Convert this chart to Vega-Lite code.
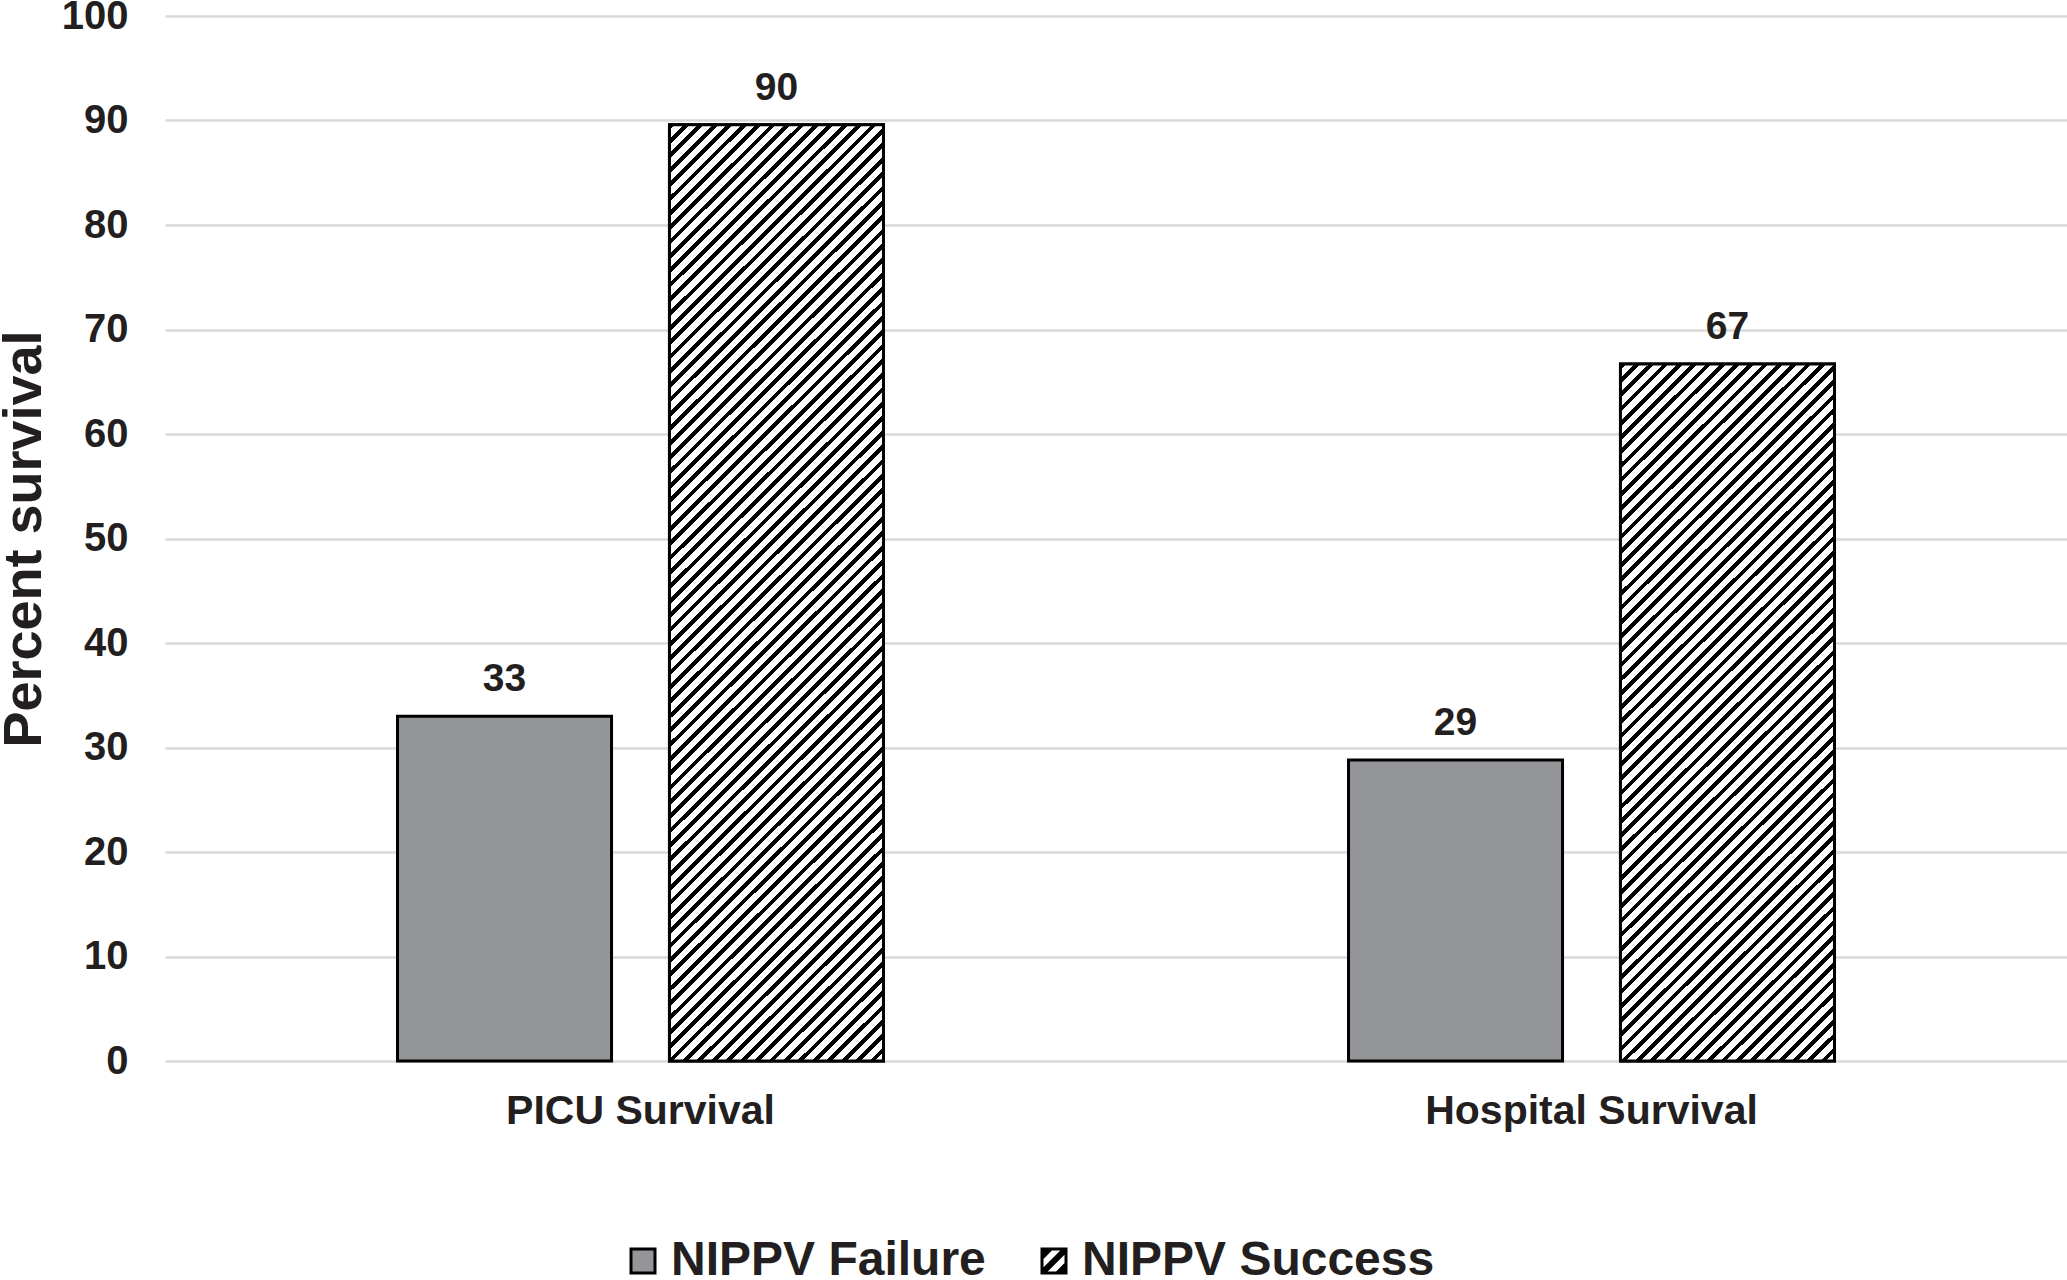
{
  "$schema": "https://vega.github.io/schema/vega-lite/v6.json",
  "description": "Percent survival by NIPPV outcome, grouped bars with hatched success bars.",
  "autosize": "none",
  "width": 1902,
  "height": 1045,
  "padding": {"left": 165, "top": 16, "right": 0, "bottom": 219},
  "background": "white",
  "data": {
    "values": [
      {"setting": "PICU Survival", "group": "NIPPV Failure", "value": 33},
      {"setting": "PICU Survival", "group": "NIPPV Success", "value": 89.6},
      {"setting": "Hospital Survival", "group": "NIPPV Failure", "value": 28.8},
      {"setting": "Hospital Survival", "group": "NIPPV Success", "value": 66.7}
    ]
  },
  "encoding": {
    "x": {
      "field": "setting",
      "type": "nominal",
      "sort": ["PICU Survival", "Hospital Survival"],
      "scale": {"paddingInner": 0.489, "paddingOuter": 0.2445},
      "axis": {
        "title": null,
        "domain": false,
        "ticks": false,
        "labelAngle": 0,
        "labelLimit": 0,
        "labelFontSize": 41,
        "labelFontWeight": "bold",
        "labelColor": "#231f20",
        "labelPadding": 30
      }
    },
    "xOffset": {
      "field": "group",
      "type": "nominal",
      "scale": {"domain": ["NIPPV Failure", "NIPPV Success"], "paddingInner": 0.213, "paddingOuter": 0}
    },
    "y": {
      "field": "value",
      "type": "quantitative",
      "scale": {"domain": [0, 100], "nice": false},
      "axis": {
        "title": "Percent survival",
        "values": [0, 10, 20, 30, 40, 50, 60, 70, 80, 90, 100],
        "domain": false,
        "ticks": false,
        "grid": true,
        "gridColor": "#d9d9d9",
        "gridWidth": 2.5,
        "labelFontSize": 40,
        "labelFontWeight": "bold",
        "labelColor": "#231f20",
        "labelPadding": 37,
        "titleFontSize": 54,
        "titleFontWeight": "bold",
        "titleColor": "#231f20",
        "titlePadding": 10
      }
    }
  },
  "layer": [
    {
      "mark": {"type": "bar", "stroke": "#000", "strokeWidth": 3},
      "encoding": {
        "fill": {
          "field": "group",
          "type": "nominal",
          "scale": {
            "domain": ["NIPPV Failure", "NIPPV Success"],
            "range": ["#939598", "#000000"]
          },
          "legend": {
            "title": null,
            "orient": "none",
            "direction": "horizontal",
            "legendX": 454,
            "legendY": 1221,
            "padding": 0,
            "symbolType": "square",
            "symbolSize": 576,
            "symbolStrokeColor": "#000",
            "symbolStrokeWidth": 3,
            "labelFontSize": 48,
            "labelFontWeight": "bold",
            "labelColor": "#231f20",
            "labelOffset": 4,
            "labelLimit": 0,
            "columnPadding": 44,
            "encode": {
              "symbols": {
                "update": {
                  "shape": {"signal": "datum.value === 'NIPPV Success' ? 'M-1.125,-1.125H1.125V1.125H-1.125Z M-0.875,-0.875V0.875H0.875V-0.875Z M-0.875,-0.875H-0.175L-0.875,-0.175Z M0.525,-0.875H0.875V-0.525L-0.525,0.875H-0.875V0.525Z M0.875,0.175V0.875H0.175Z' : 'square'"},
                  "stroke": {"value": "#000"},
                  "strokeWidth": {"signal": "datum.value === 'NIPPV Success' ? 0 : 3"}
                }
              }
            }
          }
        }
      }
    },
    {
      "transform": [{"filter": "datum.setting == 'PICU Survival' && datum.group == 'NIPPV Success'"}],
      "mark": {
        "type": "bar",
        "stroke": "#000",
        "strokeWidth": 3,
        "fill": {"gradient": "linear", "x1": 0, "y1": 0, "x2": 0.2656, "y2": 1.1672, "stops": [
          {"offset":0,"color":"#000"},{"offset":0.005,"color":"#000"},{"offset":0.005,"color":"#fff"},{"offset":0.0125,"color":"#fff"},
          {"offset":0.0125,"color":"#000"},{"offset":0.0175,"color":"#000"},{"offset":0.0175,"color":"#fff"},{"offset":0.025,"color":"#fff"},
          {"offset":0.025,"color":"#000"},{"offset":0.03,"color":"#000"},{"offset":0.03,"color":"#fff"},{"offset":0.0375,"color":"#fff"},
          {"offset":0.0375,"color":"#000"},{"offset":0.0425,"color":"#000"},{"offset":0.0425,"color":"#fff"},{"offset":0.05,"color":"#fff"},
          {"offset":0.05,"color":"#000"},{"offset":0.055,"color":"#000"},{"offset":0.055,"color":"#fff"},{"offset":0.0625,"color":"#fff"},
          {"offset":0.0625,"color":"#000"},{"offset":0.0675,"color":"#000"},{"offset":0.0675,"color":"#fff"},{"offset":0.075,"color":"#fff"},
          {"offset":0.075,"color":"#000"},{"offset":0.08,"color":"#000"},{"offset":0.08,"color":"#fff"},{"offset":0.0875,"color":"#fff"},
          {"offset":0.0875,"color":"#000"},{"offset":0.0925,"color":"#000"},{"offset":0.0925,"color":"#fff"},{"offset":0.1,"color":"#fff"},
          {"offset":0.1,"color":"#000"},{"offset":0.105,"color":"#000"},{"offset":0.105,"color":"#fff"},{"offset":0.1125,"color":"#fff"},
          {"offset":0.1125,"color":"#000"},{"offset":0.1175,"color":"#000"},{"offset":0.1175,"color":"#fff"},{"offset":0.125,"color":"#fff"},
          {"offset":0.125,"color":"#000"},{"offset":0.13,"color":"#000"},{"offset":0.13,"color":"#fff"},{"offset":0.1375,"color":"#fff"},
          {"offset":0.1375,"color":"#000"},{"offset":0.1425,"color":"#000"},{"offset":0.1425,"color":"#fff"},{"offset":0.15,"color":"#fff"},
          {"offset":0.15,"color":"#000"},{"offset":0.155,"color":"#000"},{"offset":0.155,"color":"#fff"},{"offset":0.1625,"color":"#fff"},
          {"offset":0.1625,"color":"#000"},{"offset":0.1675,"color":"#000"},{"offset":0.1675,"color":"#fff"},{"offset":0.175,"color":"#fff"},
          {"offset":0.175,"color":"#000"},{"offset":0.18,"color":"#000"},{"offset":0.18,"color":"#fff"},{"offset":0.1875,"color":"#fff"},
          {"offset":0.1875,"color":"#000"},{"offset":0.1925,"color":"#000"},{"offset":0.1925,"color":"#fff"},{"offset":0.2,"color":"#fff"},
          {"offset":0.2,"color":"#000"},{"offset":0.205,"color":"#000"},{"offset":0.205,"color":"#fff"},{"offset":0.2125,"color":"#fff"},
          {"offset":0.2125,"color":"#000"},{"offset":0.2175,"color":"#000"},{"offset":0.2175,"color":"#fff"},{"offset":0.225,"color":"#fff"},
          {"offset":0.225,"color":"#000"},{"offset":0.23,"color":"#000"},{"offset":0.23,"color":"#fff"},{"offset":0.2375,"color":"#fff"},
          {"offset":0.2375,"color":"#000"},{"offset":0.2425,"color":"#000"},{"offset":0.2425,"color":"#fff"},{"offset":0.25,"color":"#fff"},
          {"offset":0.25,"color":"#000"},{"offset":0.255,"color":"#000"},{"offset":0.255,"color":"#fff"},{"offset":0.2625,"color":"#fff"},
          {"offset":0.2625,"color":"#000"},{"offset":0.2675,"color":"#000"},{"offset":0.2675,"color":"#fff"},{"offset":0.275,"color":"#fff"},
          {"offset":0.275,"color":"#000"},{"offset":0.28,"color":"#000"},{"offset":0.28,"color":"#fff"},{"offset":0.2875,"color":"#fff"},
          {"offset":0.2875,"color":"#000"},{"offset":0.2925,"color":"#000"},{"offset":0.2925,"color":"#fff"},{"offset":0.3,"color":"#fff"},
          {"offset":0.3,"color":"#000"},{"offset":0.305,"color":"#000"},{"offset":0.305,"color":"#fff"},{"offset":0.3125,"color":"#fff"},
          {"offset":0.3125,"color":"#000"},{"offset":0.3175,"color":"#000"},{"offset":0.3175,"color":"#fff"},{"offset":0.325,"color":"#fff"},
          {"offset":0.325,"color":"#000"},{"offset":0.33,"color":"#000"},{"offset":0.33,"color":"#fff"},{"offset":0.3375,"color":"#fff"},
          {"offset":0.3375,"color":"#000"},{"offset":0.3425,"color":"#000"},{"offset":0.3425,"color":"#fff"},{"offset":0.35,"color":"#fff"},
          {"offset":0.35,"color":"#000"},{"offset":0.355,"color":"#000"},{"offset":0.355,"color":"#fff"},{"offset":0.3625,"color":"#fff"},
          {"offset":0.3625,"color":"#000"},{"offset":0.3675,"color":"#000"},{"offset":0.3675,"color":"#fff"},{"offset":0.375,"color":"#fff"},
          {"offset":0.375,"color":"#000"},{"offset":0.38,"color":"#000"},{"offset":0.38,"color":"#fff"},{"offset":0.3875,"color":"#fff"},
          {"offset":0.3875,"color":"#000"},{"offset":0.3925,"color":"#000"},{"offset":0.3925,"color":"#fff"},{"offset":0.4,"color":"#fff"},
          {"offset":0.4,"color":"#000"},{"offset":0.405,"color":"#000"},{"offset":0.405,"color":"#fff"},{"offset":0.4125,"color":"#fff"},
          {"offset":0.4125,"color":"#000"},{"offset":0.4175,"color":"#000"},{"offset":0.4175,"color":"#fff"},{"offset":0.425,"color":"#fff"},
          {"offset":0.425,"color":"#000"},{"offset":0.43,"color":"#000"},{"offset":0.43,"color":"#fff"},{"offset":0.4375,"color":"#fff"},
          {"offset":0.4375,"color":"#000"},{"offset":0.4425,"color":"#000"},{"offset":0.4425,"color":"#fff"},{"offset":0.45,"color":"#fff"},
          {"offset":0.45,"color":"#000"},{"offset":0.455,"color":"#000"},{"offset":0.455,"color":"#fff"},{"offset":0.4625,"color":"#fff"},
          {"offset":0.4625,"color":"#000"},{"offset":0.4675,"color":"#000"},{"offset":0.4675,"color":"#fff"},{"offset":0.475,"color":"#fff"},
          {"offset":0.475,"color":"#000"},{"offset":0.48,"color":"#000"},{"offset":0.48,"color":"#fff"},{"offset":0.4875,"color":"#fff"},
          {"offset":0.4875,"color":"#000"},{"offset":0.4925,"color":"#000"},{"offset":0.4925,"color":"#fff"},{"offset":0.5,"color":"#fff"},
          {"offset":0.5,"color":"#000"},{"offset":0.505,"color":"#000"},{"offset":0.505,"color":"#fff"},{"offset":0.5125,"color":"#fff"},
          {"offset":0.5125,"color":"#000"},{"offset":0.5175,"color":"#000"},{"offset":0.5175,"color":"#fff"},{"offset":0.525,"color":"#fff"},
          {"offset":0.525,"color":"#000"},{"offset":0.53,"color":"#000"},{"offset":0.53,"color":"#fff"},{"offset":0.5375,"color":"#fff"},
          {"offset":0.5375,"color":"#000"},{"offset":0.5425,"color":"#000"},{"offset":0.5425,"color":"#fff"},{"offset":0.55,"color":"#fff"},
          {"offset":0.55,"color":"#000"},{"offset":0.555,"color":"#000"},{"offset":0.555,"color":"#fff"},{"offset":0.5625,"color":"#fff"},
          {"offset":0.5625,"color":"#000"},{"offset":0.5675,"color":"#000"},{"offset":0.5675,"color":"#fff"},{"offset":0.575,"color":"#fff"},
          {"offset":0.575,"color":"#000"},{"offset":0.58,"color":"#000"},{"offset":0.58,"color":"#fff"},{"offset":0.5875,"color":"#fff"},
          {"offset":0.5875,"color":"#000"},{"offset":0.5925,"color":"#000"},{"offset":0.5925,"color":"#fff"},{"offset":0.6,"color":"#fff"},
          {"offset":0.6,"color":"#000"},{"offset":0.605,"color":"#000"},{"offset":0.605,"color":"#fff"},{"offset":0.6125,"color":"#fff"},
          {"offset":0.6125,"color":"#000"},{"offset":0.6175,"color":"#000"},{"offset":0.6175,"color":"#fff"},{"offset":0.625,"color":"#fff"},
          {"offset":0.625,"color":"#000"},{"offset":0.63,"color":"#000"},{"offset":0.63,"color":"#fff"},{"offset":0.6375,"color":"#fff"},
          {"offset":0.6375,"color":"#000"},{"offset":0.6425,"color":"#000"},{"offset":0.6425,"color":"#fff"},{"offset":0.65,"color":"#fff"},
          {"offset":0.65,"color":"#000"},{"offset":0.655,"color":"#000"},{"offset":0.655,"color":"#fff"},{"offset":0.6625,"color":"#fff"},
          {"offset":0.6625,"color":"#000"},{"offset":0.6675,"color":"#000"},{"offset":0.6675,"color":"#fff"},{"offset":0.675,"color":"#fff"},
          {"offset":0.675,"color":"#000"},{"offset":0.68,"color":"#000"},{"offset":0.68,"color":"#fff"},{"offset":0.6875,"color":"#fff"},
          {"offset":0.6875,"color":"#000"},{"offset":0.6925,"color":"#000"},{"offset":0.6925,"color":"#fff"},{"offset":0.7,"color":"#fff"},
          {"offset":0.7,"color":"#000"},{"offset":0.705,"color":"#000"},{"offset":0.705,"color":"#fff"},{"offset":0.7125,"color":"#fff"},
          {"offset":0.7125,"color":"#000"},{"offset":0.7175,"color":"#000"},{"offset":0.7175,"color":"#fff"},{"offset":0.725,"color":"#fff"},
          {"offset":0.725,"color":"#000"},{"offset":0.73,"color":"#000"},{"offset":0.73,"color":"#fff"},{"offset":0.7375,"color":"#fff"},
          {"offset":0.7375,"color":"#000"},{"offset":0.7425,"color":"#000"},{"offset":0.7425,"color":"#fff"},{"offset":0.75,"color":"#fff"},
          {"offset":0.75,"color":"#000"},{"offset":0.755,"color":"#000"},{"offset":0.755,"color":"#fff"},{"offset":0.7625,"color":"#fff"},
          {"offset":0.7625,"color":"#000"},{"offset":0.7675,"color":"#000"},{"offset":0.7675,"color":"#fff"},{"offset":0.775,"color":"#fff"},
          {"offset":0.775,"color":"#000"},{"offset":0.78,"color":"#000"},{"offset":0.78,"color":"#fff"},{"offset":0.7875,"color":"#fff"},
          {"offset":0.7875,"color":"#000"},{"offset":0.7925,"color":"#000"},{"offset":0.7925,"color":"#fff"},{"offset":0.8,"color":"#fff"},
          {"offset":0.8,"color":"#000"},{"offset":0.805,"color":"#000"},{"offset":0.805,"color":"#fff"},{"offset":0.8125,"color":"#fff"},
          {"offset":0.8125,"color":"#000"},{"offset":0.8175,"color":"#000"},{"offset":0.8175,"color":"#fff"},{"offset":0.825,"color":"#fff"},
          {"offset":0.825,"color":"#000"},{"offset":0.83,"color":"#000"},{"offset":0.83,"color":"#fff"},{"offset":0.8375,"color":"#fff"},
          {"offset":0.8375,"color":"#000"},{"offset":0.8425,"color":"#000"},{"offset":0.8425,"color":"#fff"},{"offset":0.85,"color":"#fff"},
          {"offset":0.85,"color":"#000"},{"offset":0.855,"color":"#000"},{"offset":0.855,"color":"#fff"},{"offset":0.8625,"color":"#fff"},
          {"offset":0.8625,"color":"#000"},{"offset":0.8675,"color":"#000"},{"offset":0.8675,"color":"#fff"},{"offset":0.875,"color":"#fff"},
          {"offset":0.875,"color":"#000"},{"offset":0.88,"color":"#000"},{"offset":0.88,"color":"#fff"},{"offset":0.8875,"color":"#fff"},
          {"offset":0.8875,"color":"#000"},{"offset":0.8925,"color":"#000"},{"offset":0.8925,"color":"#fff"},{"offset":0.9,"color":"#fff"},
          {"offset":0.9,"color":"#000"},{"offset":0.905,"color":"#000"},{"offset":0.905,"color":"#fff"},{"offset":0.9125,"color":"#fff"},
          {"offset":0.9125,"color":"#000"},{"offset":0.9175,"color":"#000"},{"offset":0.9175,"color":"#fff"},{"offset":0.925,"color":"#fff"},
          {"offset":0.925,"color":"#000"},{"offset":0.93,"color":"#000"},{"offset":0.93,"color":"#fff"},{"offset":0.9375,"color":"#fff"},
          {"offset":0.9375,"color":"#000"},{"offset":0.9425,"color":"#000"},{"offset":0.9425,"color":"#fff"},{"offset":0.95,"color":"#fff"},
          {"offset":0.95,"color":"#000"},{"offset":0.955,"color":"#000"},{"offset":0.955,"color":"#fff"},{"offset":0.9625,"color":"#fff"},
          {"offset":0.9625,"color":"#000"},{"offset":0.9675,"color":"#000"},{"offset":0.9675,"color":"#fff"},{"offset":0.975,"color":"#fff"},
          {"offset":0.975,"color":"#000"},{"offset":0.98,"color":"#000"},{"offset":0.98,"color":"#fff"},{"offset":0.9875,"color":"#fff"},
          {"offset":0.9875,"color":"#000"},{"offset":0.9925,"color":"#000"},{"offset":0.9925,"color":"#fff"},{"offset":1,"color":"#fff"}
        ]}
      }
    },
    {
      "transform": [{"filter": "datum.setting == 'Hospital Survival' && datum.group == 'NIPPV Success'"}],
      "mark": {
        "type": "bar",
        "stroke": "#000",
        "strokeWidth": 3,
        "fill": {"gradient": "linear", "x1": 0, "y1": 0, "x2": 0.3651, "y2": 1.1941, "stops": [
          {"offset":0,"color":"#000"},{"offset":0.00625,"color":"#000"},{"offset":0.00625,"color":"#fff"},{"offset":0.015625,"color":"#fff"},
          {"offset":0.015625,"color":"#000"},{"offset":0.021875,"color":"#000"},{"offset":0.021875,"color":"#fff"},{"offset":0.03125,"color":"#fff"},
          {"offset":0.03125,"color":"#000"},{"offset":0.0375,"color":"#000"},{"offset":0.0375,"color":"#fff"},{"offset":0.046875,"color":"#fff"},
          {"offset":0.046875,"color":"#000"},{"offset":0.053125,"color":"#000"},{"offset":0.053125,"color":"#fff"},{"offset":0.0625,"color":"#fff"},
          {"offset":0.0625,"color":"#000"},{"offset":0.06875,"color":"#000"},{"offset":0.06875,"color":"#fff"},{"offset":0.078125,"color":"#fff"},
          {"offset":0.078125,"color":"#000"},{"offset":0.084375,"color":"#000"},{"offset":0.084375,"color":"#fff"},{"offset":0.09375,"color":"#fff"},
          {"offset":0.09375,"color":"#000"},{"offset":0.1,"color":"#000"},{"offset":0.1,"color":"#fff"},{"offset":0.109375,"color":"#fff"},
          {"offset":0.109375,"color":"#000"},{"offset":0.115625,"color":"#000"},{"offset":0.115625,"color":"#fff"},{"offset":0.125,"color":"#fff"},
          {"offset":0.125,"color":"#000"},{"offset":0.13125,"color":"#000"},{"offset":0.13125,"color":"#fff"},{"offset":0.140625,"color":"#fff"},
          {"offset":0.140625,"color":"#000"},{"offset":0.146875,"color":"#000"},{"offset":0.146875,"color":"#fff"},{"offset":0.15625,"color":"#fff"},
          {"offset":0.15625,"color":"#000"},{"offset":0.1625,"color":"#000"},{"offset":0.1625,"color":"#fff"},{"offset":0.171875,"color":"#fff"},
          {"offset":0.171875,"color":"#000"},{"offset":0.178125,"color":"#000"},{"offset":0.178125,"color":"#fff"},{"offset":0.1875,"color":"#fff"},
          {"offset":0.1875,"color":"#000"},{"offset":0.19375,"color":"#000"},{"offset":0.19375,"color":"#fff"},{"offset":0.203125,"color":"#fff"},
          {"offset":0.203125,"color":"#000"},{"offset":0.209375,"color":"#000"},{"offset":0.209375,"color":"#fff"},{"offset":0.21875,"color":"#fff"},
          {"offset":0.21875,"color":"#000"},{"offset":0.225,"color":"#000"},{"offset":0.225,"color":"#fff"},{"offset":0.234375,"color":"#fff"},
          {"offset":0.234375,"color":"#000"},{"offset":0.240625,"color":"#000"},{"offset":0.240625,"color":"#fff"},{"offset":0.25,"color":"#fff"},
          {"offset":0.25,"color":"#000"},{"offset":0.25625,"color":"#000"},{"offset":0.25625,"color":"#fff"},{"offset":0.265625,"color":"#fff"},
          {"offset":0.265625,"color":"#000"},{"offset":0.271875,"color":"#000"},{"offset":0.271875,"color":"#fff"},{"offset":0.28125,"color":"#fff"},
          {"offset":0.28125,"color":"#000"},{"offset":0.2875,"color":"#000"},{"offset":0.2875,"color":"#fff"},{"offset":0.296875,"color":"#fff"},
          {"offset":0.296875,"color":"#000"},{"offset":0.303125,"color":"#000"},{"offset":0.303125,"color":"#fff"},{"offset":0.3125,"color":"#fff"},
          {"offset":0.3125,"color":"#000"},{"offset":0.31875,"color":"#000"},{"offset":0.31875,"color":"#fff"},{"offset":0.328125,"color":"#fff"},
          {"offset":0.328125,"color":"#000"},{"offset":0.334375,"color":"#000"},{"offset":0.334375,"color":"#fff"},{"offset":0.34375,"color":"#fff"},
          {"offset":0.34375,"color":"#000"},{"offset":0.35,"color":"#000"},{"offset":0.35,"color":"#fff"},{"offset":0.359375,"color":"#fff"},
          {"offset":0.359375,"color":"#000"},{"offset":0.365625,"color":"#000"},{"offset":0.365625,"color":"#fff"},{"offset":0.375,"color":"#fff"},
          {"offset":0.375,"color":"#000"},{"offset":0.38125,"color":"#000"},{"offset":0.38125,"color":"#fff"},{"offset":0.390625,"color":"#fff"},
          {"offset":0.390625,"color":"#000"},{"offset":0.396875,"color":"#000"},{"offset":0.396875,"color":"#fff"},{"offset":0.40625,"color":"#fff"},
          {"offset":0.40625,"color":"#000"},{"offset":0.4125,"color":"#000"},{"offset":0.4125,"color":"#fff"},{"offset":0.421875,"color":"#fff"},
          {"offset":0.421875,"color":"#000"},{"offset":0.428125,"color":"#000"},{"offset":0.428125,"color":"#fff"},{"offset":0.4375,"color":"#fff"},
          {"offset":0.4375,"color":"#000"},{"offset":0.44375,"color":"#000"},{"offset":0.44375,"color":"#fff"},{"offset":0.453125,"color":"#fff"},
          {"offset":0.453125,"color":"#000"},{"offset":0.459375,"color":"#000"},{"offset":0.459375,"color":"#fff"},{"offset":0.46875,"color":"#fff"},
          {"offset":0.46875,"color":"#000"},{"offset":0.475,"color":"#000"},{"offset":0.475,"color":"#fff"},{"offset":0.484375,"color":"#fff"},
          {"offset":0.484375,"color":"#000"},{"offset":0.490625,"color":"#000"},{"offset":0.490625,"color":"#fff"},{"offset":0.5,"color":"#fff"},
          {"offset":0.5,"color":"#000"},{"offset":0.50625,"color":"#000"},{"offset":0.50625,"color":"#fff"},{"offset":0.515625,"color":"#fff"},
          {"offset":0.515625,"color":"#000"},{"offset":0.521875,"color":"#000"},{"offset":0.521875,"color":"#fff"},{"offset":0.53125,"color":"#fff"},
          {"offset":0.53125,"color":"#000"},{"offset":0.5375,"color":"#000"},{"offset":0.5375,"color":"#fff"},{"offset":0.546875,"color":"#fff"},
          {"offset":0.546875,"color":"#000"},{"offset":0.553125,"color":"#000"},{"offset":0.553125,"color":"#fff"},{"offset":0.5625,"color":"#fff"},
          {"offset":0.5625,"color":"#000"},{"offset":0.56875,"color":"#000"},{"offset":0.56875,"color":"#fff"},{"offset":0.578125,"color":"#fff"},
          {"offset":0.578125,"color":"#000"},{"offset":0.584375,"color":"#000"},{"offset":0.584375,"color":"#fff"},{"offset":0.59375,"color":"#fff"},
          {"offset":0.59375,"color":"#000"},{"offset":0.6,"color":"#000"},{"offset":0.6,"color":"#fff"},{"offset":0.609375,"color":"#fff"},
          {"offset":0.609375,"color":"#000"},{"offset":0.615625,"color":"#000"},{"offset":0.615625,"color":"#fff"},{"offset":0.625,"color":"#fff"},
          {"offset":0.625,"color":"#000"},{"offset":0.63125,"color":"#000"},{"offset":0.63125,"color":"#fff"},{"offset":0.640625,"color":"#fff"},
          {"offset":0.640625,"color":"#000"},{"offset":0.646875,"color":"#000"},{"offset":0.646875,"color":"#fff"},{"offset":0.65625,"color":"#fff"},
          {"offset":0.65625,"color":"#000"},{"offset":0.6625,"color":"#000"},{"offset":0.6625,"color":"#fff"},{"offset":0.671875,"color":"#fff"},
          {"offset":0.671875,"color":"#000"},{"offset":0.678125,"color":"#000"},{"offset":0.678125,"color":"#fff"},{"offset":0.6875,"color":"#fff"},
          {"offset":0.6875,"color":"#000"},{"offset":0.69375,"color":"#000"},{"offset":0.69375,"color":"#fff"},{"offset":0.703125,"color":"#fff"},
          {"offset":0.703125,"color":"#000"},{"offset":0.709375,"color":"#000"},{"offset":0.709375,"color":"#fff"},{"offset":0.71875,"color":"#fff"},
          {"offset":0.71875,"color":"#000"},{"offset":0.725,"color":"#000"},{"offset":0.725,"color":"#fff"},{"offset":0.734375,"color":"#fff"},
          {"offset":0.734375,"color":"#000"},{"offset":0.740625,"color":"#000"},{"offset":0.740625,"color":"#fff"},{"offset":0.75,"color":"#fff"},
          {"offset":0.75,"color":"#000"},{"offset":0.75625,"color":"#000"},{"offset":0.75625,"color":"#fff"},{"offset":0.765625,"color":"#fff"},
          {"offset":0.765625,"color":"#000"},{"offset":0.771875,"color":"#000"},{"offset":0.771875,"color":"#fff"},{"offset":0.78125,"color":"#fff"},
          {"offset":0.78125,"color":"#000"},{"offset":0.7875,"color":"#000"},{"offset":0.7875,"color":"#fff"},{"offset":0.796875,"color":"#fff"},
          {"offset":0.796875,"color":"#000"},{"offset":0.803125,"color":"#000"},{"offset":0.803125,"color":"#fff"},{"offset":0.8125,"color":"#fff"},
          {"offset":0.8125,"color":"#000"},{"offset":0.81875,"color":"#000"},{"offset":0.81875,"color":"#fff"},{"offset":0.828125,"color":"#fff"},
          {"offset":0.828125,"color":"#000"},{"offset":0.834375,"color":"#000"},{"offset":0.834375,"color":"#fff"},{"offset":0.84375,"color":"#fff"},
          {"offset":0.84375,"color":"#000"},{"offset":0.85,"color":"#000"},{"offset":0.85,"color":"#fff"},{"offset":0.859375,"color":"#fff"},
          {"offset":0.859375,"color":"#000"},{"offset":0.865625,"color":"#000"},{"offset":0.865625,"color":"#fff"},{"offset":0.875,"color":"#fff"},
          {"offset":0.875,"color":"#000"},{"offset":0.88125,"color":"#000"},{"offset":0.88125,"color":"#fff"},{"offset":0.890625,"color":"#fff"},
          {"offset":0.890625,"color":"#000"},{"offset":0.896875,"color":"#000"},{"offset":0.896875,"color":"#fff"},{"offset":0.90625,"color":"#fff"},
          {"offset":0.90625,"color":"#000"},{"offset":0.9125,"color":"#000"},{"offset":0.9125,"color":"#fff"},{"offset":0.921875,"color":"#fff"},
          {"offset":0.921875,"color":"#000"},{"offset":0.928125,"color":"#000"},{"offset":0.928125,"color":"#fff"},{"offset":0.9375,"color":"#fff"},
          {"offset":0.9375,"color":"#000"},{"offset":0.94375,"color":"#000"},{"offset":0.94375,"color":"#fff"},{"offset":0.953125,"color":"#fff"},
          {"offset":0.953125,"color":"#000"},{"offset":0.959375,"color":"#000"},{"offset":0.959375,"color":"#fff"},{"offset":0.96875,"color":"#fff"},
          {"offset":0.96875,"color":"#000"},{"offset":0.975,"color":"#000"},{"offset":0.975,"color":"#fff"},{"offset":0.984375,"color":"#fff"},
          {"offset":0.984375,"color":"#000"},{"offset":0.990625,"color":"#000"},{"offset":0.990625,"color":"#fff"},{"offset":1,"color":"#fff"}
        ]}
      }
    },
    {
      "mark": {
        "type": "text",
        "baseline": "alphabetic",
        "dy": -25,
        "fontSize": 39,
        "fontWeight": "bold",
        "fill": "#231f20"
      },
      "encoding": {
        "text": {"field": "value", "type": "quantitative", "format": ".0f"}
      }
    }
  ],
  "config": {
    "font": "Liberation Sans",
    "view": {"stroke": null}
  }
}
